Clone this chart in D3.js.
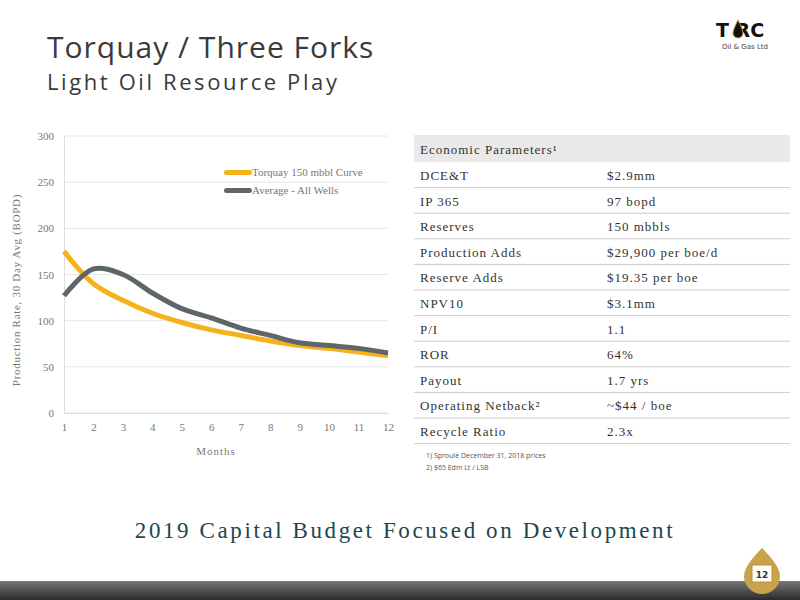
<!DOCTYPE html>
<html><head><meta charset="utf-8">
<script src="https://cdn.jsdelivr.net/npm/d3@7"></script>
<style>body{margin:0;background:#fff;}svg{display:block;font-family:"Liberation Serif",serif;}</style>
</head><body><svg id="c" width="800" height="600"></svg>
<script>
// Chart data
const months = [1,2,3,4,5,6,7,8,9,10,11,12];
const typeCurve = [175,140,122,108,98,90,84,78,73,70,66,62];
const avgWells = [127,156,150,130,113,103,92,84,76,73,70,65];
const yTicks = [0,50,100,150,200,250,300];
const paramNames = ["DCE&T","IP 365","Reserves","Production Adds","Reserve Adds","NPV10","P/I","ROR","Payout","Operating Netback²","Recycle Ratio"];
const paramValues = ["$2.9mm","97 bopd","150 mbbls","$29,900 per boe/d","$19.35 per boe","$3.1mm","1.1","64%","1.7 yrs","~$44 / boe","2.3x"];

const svg = d3.select("#c");

// Title
svg.append("text").attr("x",47).attr("y",58).style("font-family","Open Sans").style("font-size","30px").style("fill","#3a3a3a").style("letter-spacing","1px").text("Torquay / Three Forks");
svg.append("text").attr("x",47).attr("y",90).style("font-family","Open Sans").style("font-size","22px").style("fill","#3a3a3a").style("letter-spacing","2.6px").text("Light Oil Resource Play");

// Logo
svg.append("text").attr("x",740).attr("y",37).attr("text-anchor","middle").style("font-family","DejaVu Sans").style("font-weight","bold").style("font-size","19px").style("fill","#111").text("T RC");
svg.append("path").attr("d","M738,20 Q733,30 733,33 A5,5 0 0 0 743,33 Q743,30 738,20Z").attr("fill","#111").attr("stroke","#b8923a");
svg.append("text").attr("x",745).attr("y",49).attr("text-anchor","middle").style("font-family","DejaVu Sans").style("font-size","7px").style("fill","#444").text("Oil & Gas Ltd");

// Line chart
const x = d3.scaleLinear().domain([1,12]).range([64,388]);
const y = d3.scaleLinear().domain([0,300]).range([413,136]);
const g = svg.append("g");
g.selectAll("line.grid").data(yTicks).enter().append("line")
  .attr("x1",64).attr("x2",388).attr("y1",d=>y(d)).attr("y2",d=>y(d))
  .attr("stroke","#e6e6e6");
g.append("g").attr("transform","translate(0,413)")
  .call(d3.axisBottom(x).tickValues(months).tickSize(0).tickPadding(10))
  .call(a=>a.select(".domain").attr("stroke","#ddd"))
  .call(a=>a.selectAll("text").style("font-family","Liberation Serif").style("font-size","11px").style("fill","#777"));
g.append("g").attr("transform","translate(64,0)")
  .call(d3.axisLeft(y).tickValues(yTicks).tickSize(0).tickPadding(10))
  .call(a=>a.select(".domain").attr("stroke","#ddd"))
  .call(a=>a.selectAll("text").style("font-family","Liberation Serif").style("font-size","11px").style("fill","#777"));

const line = d3.line().x((d,i)=>x(months[i])).y(d=>y(d)).curve(d3.curveCatmullRom);
g.append("path").datum(typeCurve).attr("d",line).attr("fill","none").attr("stroke","#f6b21a").attr("stroke-width",5);
g.append("path").datum(avgWells).attr("d",line).attr("fill","none").attr("stroke","#5f6669").attr("stroke-width",5);

// Legend
const leg = [["Torquay 150 mbbl Curve","#f6b21a"],["Average - All Wells","#5f6669"]];
leg.forEach((l,i)=>{
  g.append("rect").attr("x",224).attr("y",170+i*18).attr("width",28).attr("height",5).attr("rx",2.5).attr("fill",l[1]);
  g.append("text").attr("x",252).attr("y",176+i*18).style("font-size","11px").style("fill","#777").text(l[0]);
});
g.append("text").attr("x",216).attr("y",455).attr("text-anchor","middle").style("font-size","11px").style("fill","#777").style("letter-spacing","1px").text("Months");
g.append("text").attr("transform","translate(20,290) rotate(-90)").attr("text-anchor","middle").style("font-size","11px").style("fill","#777").style("letter-spacing","0.7px").text("Production Rate, 30 Day Avg (BOPD)");

// Table
const tx = 414, tw = 376, hdrTop = 135, hdrH = 27, rowH = 25.6;
svg.append("rect").attr("x",tx).attr("y",hdrTop).attr("width",tw).attr("height",hdrH).attr("fill","#e9e9e9");
svg.append("text").attr("x",tx+6).attr("y",hdrTop+19).style("font-size","13px").style("fill","#333").style("letter-spacing","1px").text("Economic Parameters¹");
const rows = svg.selectAll("g.row").data(paramNames).enter().append("g")
  .attr("transform",(d,i)=>`translate(0,${hdrTop+hdrH+i*rowH})`);
rows.append("line").attr("x1",tx).attr("x2",tx+tw).attr("y1",rowH).attr("y2",rowH).attr("stroke","#ccc");
rows.append("text").attr("x",tx+6).attr("y",18).style("font-size","13px").style("fill","#333").style("letter-spacing","1px").text(d=>d);
rows.append("text").attr("x",607).attr("y",18).style("font-size","13px").style("fill","#333").style("letter-spacing","1px").text((d,i)=>paramValues[i]);

svg.append("text").attr("x",426).attr("y",458).style("font-family","Open Sans").style("font-size","7px").style("fill","#555").text("1)   Sproule December 31, 2018 prices");
svg.append("text").attr("x",426).attr("y",470).style("font-family","Open Sans").style("font-size","7px").style("fill","#555").text("2)   $65 Edm Lt / LSB");

// Footer title
svg.append("text").attr("x",405).attr("y",538).attr("text-anchor","middle").style("font-size","23px").style("fill","#1d4650").style("letter-spacing","2.6px").text("2019 Capital Budget Focused on Development");

// Bottom bar
const grad = svg.append("defs").append("linearGradient").attr("id","bar").attr("x1",0).attr("x2",0).attr("y1",0).attr("y2",1);
grad.append("stop").attr("offset","0").attr("stop-color","#777");
grad.append("stop").attr("offset","1").attr("stop-color","#2a2a2a");
svg.append("rect").attr("x",0).attr("y",581).attr("width",800).attr("height",19).attr("fill","url(#bar)");
svg.append("path").attr("d","M762,548 Q744,566 744,576 A18,18 0 0 0 780,576 Q780,566 762,548Z").attr("fill","#c9a24c");
svg.append("rect").attr("x",752).attr("y",565).attr("width",20).attr("height",17).attr("fill","#fff").attr("stroke","#b8923a");
svg.append("text").attr("x",762).attr("y",578).attr("text-anchor","middle").style("font-family","DejaVu Sans").style("font-size","9px").style("font-weight","bold").style("fill","#333").text("12");
</script></body></html>
